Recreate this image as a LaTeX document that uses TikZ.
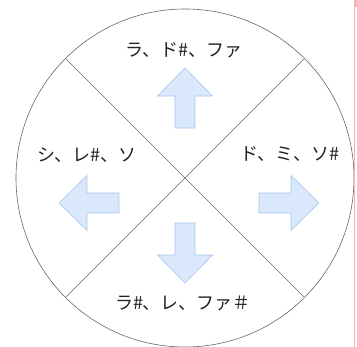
\documentclass[tikz,border=0pt]{standalone}
\usepackage{fontspec}
\newfontfamily\jpfont{Noto Sans CJK JP}
\usetikzlibrary{positioning}
\definecolor{arrowfill}{HTML}{DAE8FC}
\definecolor{arrowline}{HTML}{A9C4EB}
\definecolor{edgepink}{HTML}{F2B3BC}
\definecolor{textgray}{HTML}{222222}

\begin{document}
\begin{tikzpicture}[x=1pt, y=1pt,
    wheel/.style={draw=black!60, line width=0.6pt},
    label/.style={font=\jpfont\fontsize{18}{18}\selectfont, text=textgray, inner sep=0pt},
    bigarrow/.pic={\draw[draw=arrowline, fill=arrowfill, line width=0.6pt]
      (0,-10) -- (32,-10) -- (32,-27.5) -- (60,0) -- (32,27.5) -- (32,10) -- (0,10) -- cycle;}]
    \useasboundingbox (-185,-169) rectangle (172,178);
    \coordinate (O) at (0,0);
    \draw[wheel] (O) circle (169);
    \coordinate (nw) at (135:168);
    \coordinate (ne) at (45:168);
    \coordinate (sw) at (225:168);
    \coordinate (se) at (315:168);
    \draw[wheel] (nw) -- (se);
    \draw[wheel] (ne) -- (sw);
    % arrows
    \pic[rotate=90] at (0,50) {bigarrow};
    \pic at (74,-25) {bigarrow};
    \pic[rotate=180] at (-66,-25) {bigarrow};
    \pic[rotate=-90] at (0,-45) {bigarrow};
    % labels
    \node[label] (top) at (-1,128) {ラ、ド\#、ファ};
    \node[label] (right) at (105,24) {ド、ミ、ソ\#};
    \node[label] (left) at (-98,23) {シ、レ\#、ソ};
    \node[label] (bottom) at (-2,-125) {ラ\#、レ、ファ＃};
    % page edge
    \coordinate (edgetop) at (170,178);
    \coordinate (edgebot) at (170,-169);
    \draw[edgepink, line width=1pt] (edgetop) -- (edgebot);
    \fill[edgepink] (169.5,178) rectangle (172,171);
\end{tikzpicture}
\end{document}
